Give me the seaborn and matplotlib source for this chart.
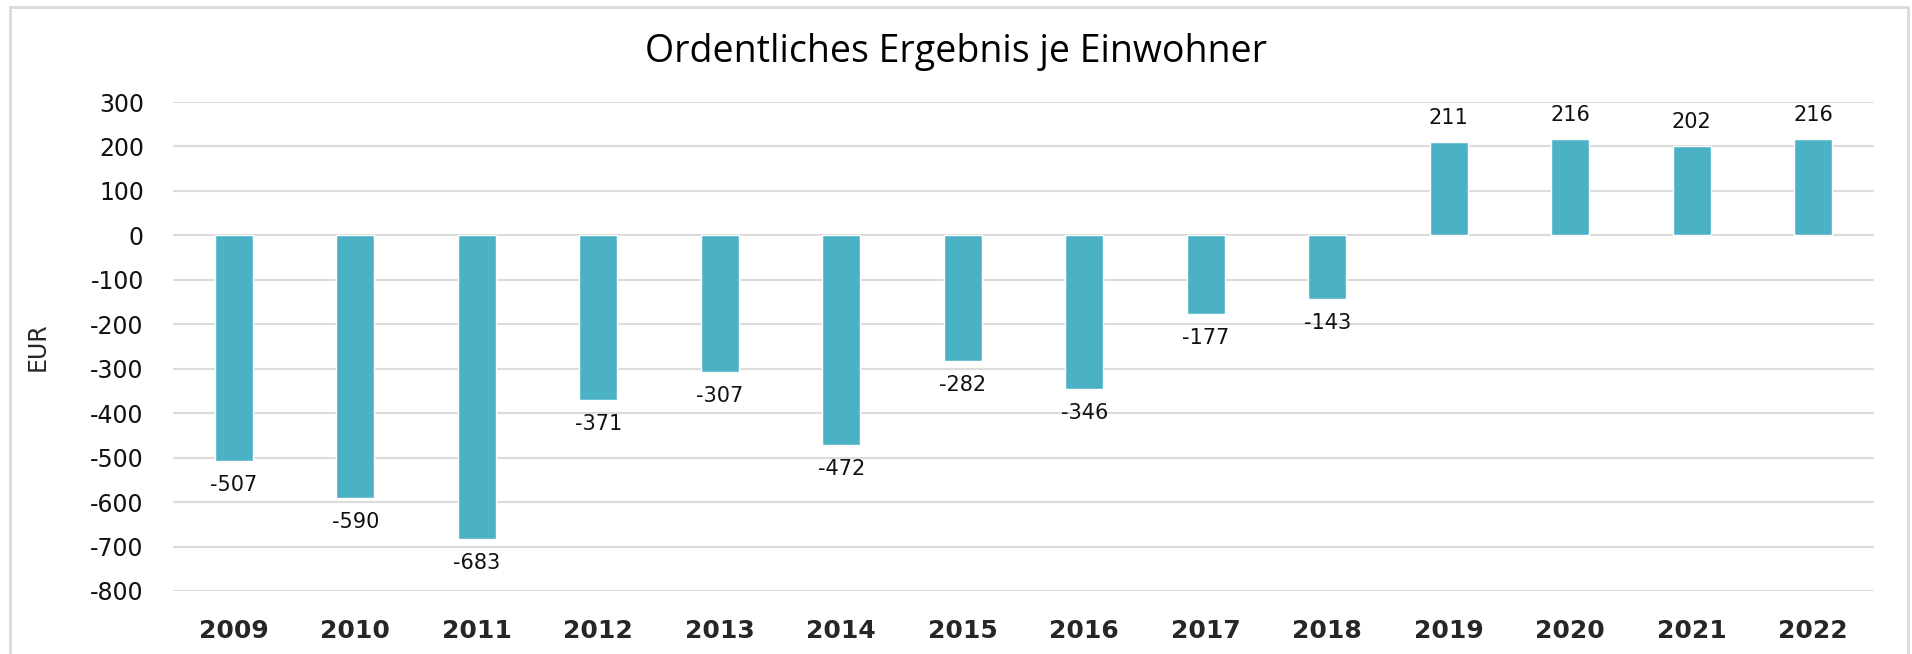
import numpy as np
import pandas as pd
import seaborn as sns
import matplotlib.pyplot as plt
from matplotlib.patches import Rectangle

# data
jahre = ["2009", "2010", "2011", "2012", "2013", "2014", "2015",
         "2016", "2017", "2018", "2019", "2020", "2021", "2022"]
ergebnis = [-507, -590, -683, -371, -307, -472, -282,
            -346, -177, -143, 211, 216, 202, 216]

df = pd.DataFrame({"jahr": jahre, "eur": ergebnis})

sns.set_style("white")
plt.rcParams['font.family'] = ['DejaVu Sans']
plt.rcParams['axes.unicode_minus'] = False

fig = plt.figure(figsize=(19.12, 6.54), dpi=100)
ax = fig.add_axes([173/1912, 1 - 591/654, (1874 - 173)/1912, (591 - 102)/654])

sns.barplot(data=df, x="jahr", y="eur", color="#4bb2c5", saturation=1,
            width=0.31, ax=ax, zorder=3)

for c in ax.containers:
    ax.bar_label(c, fmt="%d", padding=10, fontsize=15, color="#111111")

ax.set_ylim(-800, 300)
ax.set_yticks(range(-800, 301, 100))
ax.grid(axis="y", color="#dcdcdc", linewidth=1.5, zorder=0)
for s in ax.spines.values():
    s.set_visible(False)
ax.tick_params(axis="both", length=0)
ax.tick_params(axis="y", labelsize=17, pad=21, labelcolor="#111111")
ax.tick_params(axis="x", pad=20)
for lab in ax.get_xticklabels():
    lab.set_fontsize(18)
    lab.set_fontweight("bold")
ax.set_xlabel("")
ax.set_ylabel("EUR", fontsize=17, labelpad=29)

fig.text(0.5, 1 - 52/654, "Ordentliches Ergebnis je Einwohner",
         ha="center", va="center", fontsize=27, family="Open Sans",
         color="#000000")

# light frame around the chart
fig.patches.append(Rectangle((10/1912, -0.02), 1898/1912, 0.02 + 647/654,
                             transform=fig.transFigure, fill=False,
                             edgecolor="#d9d9d9", linewidth=2))

plt.savefig("out.png", dpi=100)
